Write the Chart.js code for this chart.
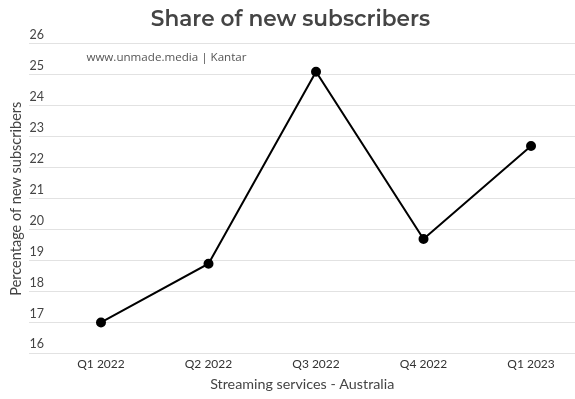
<!DOCTYPE html>
<html>
<head>
<meta charset="utf-8">
<script src="https://cdn.jsdelivr.net/npm/chart.js@4/dist/chart.umd.min.js"></script>
<style>
html,body{margin:0;padding:0;background:#fff;overflow:hidden;}
#wrap{width:575px;height:399px;position:relative;}
canvas{display:block;}
</style>
</head>
<body>
<div id="wrap"><canvas id="c"></canvas></div>
<script>
const categories = ["Q1 2022", "Q2 2022", "Q3 2022", "Q4 2022", "Q1 2023"];
const shareValues = [17.0, 18.9, 25.1, 19.7, 22.7];
const yTicks = [16, 17, 18, 19, 20, 21, 22, 23, 24, 25, 26];
const chartTitle = "Share of new subscribers";
const sourceNote = "www.unmade.media | Kantar";
const xTitle = "Streaming services - Australia";
const yTitle = "Percentage of new subscribers";

const points = shareValues.map((v, i) => ({ x: i, y: v }));

const notePlugin = {
  id: 'note',
  afterDraw(chart) {
    const { ctx, chartArea } = chart;
    ctx.save();
    ctx.font = '11.6px "Open Sans"';
    ctx.fillStyle = '#555';
    ctx.textBaseline = 'middle';
    ctx.textAlign = 'left';
    ctx.fillText(sourceNote, chartArea.left + 57, chartArea.top + 13.5);
    ctx.restore();
  }
};

new Chart(document.getElementById('c'), {
  type: 'line',
  data: {
    datasets: [{
      data: points,
      borderColor: '#000',
      borderWidth: 2,
      backgroundColor: '#000',
      pointBackgroundColor: '#000',
      pointBorderColor: '#000',
      pointRadius: 4,
      tension: 0,
      fill: false,
      clip: false
    }]
  },
  options: {
    responsive: true,
    maintainAspectRatio: false,
    animation: false,
    layout: { autoPadding: false, padding: { left: 6, right: 0, top: 0, bottom: 0 } },
    plugins: {
      legend: { display: false },
      tooltip: { enabled: false },
      title: {
        display: true,
        text: chartTitle,
        color: '#444',
        font: { family: 'Montserrat, "Open Sans", sans-serif', size: 21.6, weight: '600' },
        padding: { top: 7, bottom: 11 }
      }
    },
    scales: {
      x: {
        type: 'linear',
        min: -0.666,
        max: 4.409,
        afterBuildTicks(scale) {
          scale.ticks = categories.map((c, i) => ({ value: i }));
        },
        ticks: {
          callback: (v) => categories[v] ?? '',
          color: '#333',
          font: { family: 'Lato', size: 12 },
          padding: 3,
          maxRotation: 0,
          autoSkip: false
        },
        grid: { display: false, drawTicks: false },
        border: { display: false },
        title: {
          display: true,
          text: xTitle,
          color: '#444',
          font: { family: 'Lato', size: 14.3 },
          padding: { top: 2, bottom: 6 }
        }
      },
      y: {
        min: 16,
        max: 26,
        afterBuildTicks(scale) {
          scale.ticks = yTicks.map(v => ({ value: v }));
        },
        ticks: {
          mirror: true,
          padding: 0,
          labelOffset: -9,
          color: '#444',
          font: { family: 'Lato', size: 12.5 }
        },
        grid: { color: '#e2e2e2', lineWidth: 1, drawTicks: false },
        border: { display: false },
        title: {
          display: true,
          text: yTitle,
          color: '#444',
          font: { family: 'Lato', size: 14.5 },
          padding: { top: 2, bottom: 4 }
        }
      }
    }
  },
  plugins: [notePlugin]
});
</script>
</body>
</html>
